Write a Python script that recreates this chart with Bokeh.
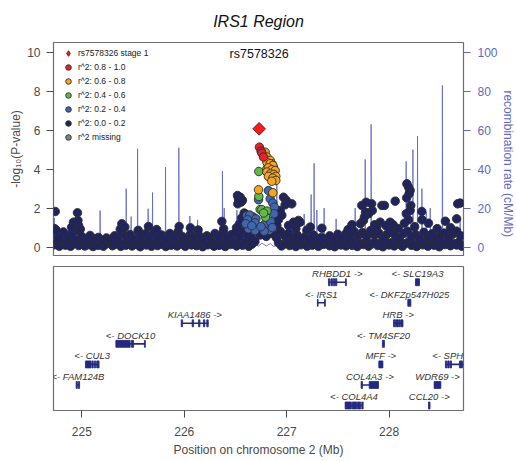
import math
from bokeh.plotting import figure
from bokeh.layouts import column, row
from bokeh.models import (Range1d, LinearAxis, FixedTicker, Legend, LegendItem,
                          Label, ColumnDataSource)
from bokeh.core.properties import value
from bokeh.embed import file_html
from bokeh.resources import INLINE

FONT = "Liberation Sans"

# ---------------------------------------------------------------------------
# Association results on chromosome 2 (position in Mb, -log10 P), by LD bin
# ---------------------------------------------------------------------------
lead_name = "rs7578326"
lead_pos = [226.731]
lead_logp = [6.07]

red_pos = [226.734, 226.751, 226.758, 226.774]
red_logp = [5.13, 4.92, 4.82, 4.62]

orange_pos = [226.790, 226.807, 226.839, 226.855, 226.822, 226.871, 226.807, 226.807,
              226.839, 226.865, 226.822, 226.855, 226.888, 226.807, 226.843, 226.875,
              226.894, 226.822, 226.865, 226.894, 226.855, 226.725, 226.865]
orange_logp = [4.87, 4.62, 4.45, 4.28, 4.19, 4.10, 4.02, 4.36,
               4.28, 4.19, 4.07, 3.97, 3.93, 3.85, 3.76, 3.73,
               3.63, 3.63, 3.54, 3.42, 3.38, 2.94, 2.79]

green_pos = [226.728, 226.728, 226.741, 226.758, 226.807, 226.793, 226.775]
green_logp = [3.88, 2.60, 1.93, 1.92, 1.85, 1.54, 1.75]

blue_pos = [226.725, 226.822, 226.839, 226.865, 226.880, 226.876, 226.611, 226.676,
            226.640, 226.620, 226.700, 226.690, 226.790, 226.830, 226.780, 226.627,
            226.692, 226.600, 226.750, 226.660, 226.845, 226.860]
blue_logp = [2.43, 2.90, 2.48, 2.26, 2.05, 1.71, 1.63, 1.54,
             1.65, 1.40, 1.45, 1.25, 1.20, 0.86, 0.82, 0.94,
             0.86, 1.20, 1.05, 1.10, 1.30, 1.00]

navy_pos = [
    # lower band
    224.73, 224.76, 224.78, 224.81, 224.84, 224.86, 224.89, 224.92, 224.95, 224.97,
    225.00, 225.03, 225.05, 225.08, 225.11, 225.13, 225.16, 225.19, 225.21, 225.24,
    225.27, 225.30, 225.32, 225.35, 225.38, 225.41, 225.43, 225.46, 225.49, 225.52,
    225.54, 225.57, 225.60, 225.63, 225.65, 225.68, 225.71, 225.74, 225.76, 225.79,
    225.82, 225.85, 225.87, 225.90, 225.93, 225.96, 225.98, 226.01, 226.04, 226.07,
    226.09, 226.12, 226.15, 226.18, 226.20, 226.23, 226.26, 226.29, 226.31, 226.34,
    226.37, 226.40, 226.42, 226.45, 226.48, 226.51, 226.54, 226.57, 226.60, 226.63,
    226.66, 226.69, 226.92, 226.95, 226.98, 227.01, 227.03, 227.06, 227.09, 227.12,
    227.14, 227.17, 227.20, 227.23, 227.25, 227.28, 227.31, 227.34, 227.36, 227.39,
    227.42, 227.45, 227.47, 227.50, 227.53, 227.56, 227.58, 227.61, 227.64, 227.67,
    227.69, 227.72, 227.75, 227.78, 227.80, 227.83, 227.86, 227.89, 227.91, 227.94,
    227.97, 228.00, 228.02, 228.05, 228.08, 228.11, 228.13, 228.16, 228.19, 228.22,
    228.24, 228.27, 228.30, 228.33, 228.35, 228.38, 228.41, 228.44, 228.46, 228.49,
    228.52, 228.55, 228.57, 228.60, 228.63, 228.66, 228.68, 228.71,
    # upper band
    224.74, 224.78, 224.82, 224.86, 224.90, 224.93, 224.96, 225.00, 225.04, 225.08,
    225.12, 225.16, 225.20, 225.24, 225.28, 225.32, 225.35, 225.39, 225.43, 225.47,
    225.51, 225.55, 225.58, 225.62, 225.66, 225.70, 225.74, 225.78, 225.82, 225.86,
    225.90, 225.94, 225.98, 226.02, 226.06, 226.10, 226.14, 226.18, 226.22, 226.26,
    226.30, 226.34, 226.38, 226.42, 226.46, 226.50, 226.54, 226.58, 226.62, 226.66,
    226.74, 226.80, 226.86, 226.90, 226.94, 226.98, 227.02, 227.06, 227.10, 227.14,
    227.18, 227.22, 227.26, 227.30, 227.34, 227.38, 227.42, 227.46, 227.50, 227.54,
    227.58, 227.62, 227.66, 227.70, 227.74, 227.78, 227.82, 227.86, 227.90, 227.94,
    227.98, 228.02, 228.06, 228.10, 228.14, 228.18, 228.22, 228.26, 228.30, 228.34,
    228.38, 228.42, 228.46, 228.50, 228.54, 228.58, 228.62, 228.66, 228.70,
    # scattered higher markers
    224.740, 224.732, 224.748, 224.957, 224.962, 224.918, 224.968, 224.940, 224.900, 224.985,
    225.390, 225.420, 225.375, 225.550, 225.650, 225.730, 225.950, 226.060, 226.135,
    226.367, 226.385,
    226.520, 226.529, 226.546, 226.556, 226.568, 226.523, 226.535, 226.585, 226.560, 226.540,
    226.595, 226.510,
    226.969, 226.995, 227.050, 226.985, 226.937, 226.953, 227.067, 227.115, 227.018, 227.130,
    226.920, 226.905, 227.090,
    227.230, 227.344, 227.197, 227.637, 227.600,
    227.734, 227.776, 227.830, 227.800, 227.770, 227.836, 227.750, 227.930, 227.955, 227.913,
    228.010, 228.060, 227.720, 227.860, 227.760, 227.880, 227.970, 228.040, 228.090,
    228.174, 228.190, 228.206, 228.196, 228.172, 228.212, 228.206, 228.168, 228.190, 228.150,
    228.320, 228.322, 228.385, 228.550, 228.660, 228.694, 228.670, 228.600, 228.470, 228.250,
]
navy_logp = [
    0.12, 0.25, 0.05, 0.30, 0.10, 0.22, 0.04, 0.18, 0.28, 0.08,
    0.20, 0.06, 0.27, 0.12, 0.03, 0.22, 0.09, 0.30, 0.05, 0.17,
    0.26, 0.07, 0.14, 0.29, 0.04, 0.19, 0.10, 0.25, 0.06, 0.21,
    0.13, 0.02, 0.24, 0.11, 0.30, 0.05, 0.18, 0.08, 0.27, 0.14,
    0.03, 0.22, 0.10, 0.29, 0.06, 0.16, 0.25, 0.04, 0.20, 0.11,
    0.28, 0.07, 0.17, 0.02, 0.24, 0.12, 0.30, 0.05, 0.19, 0.09,
    0.26, 0.03, 0.21, 0.13, 0.28, 0.06, 0.18, 0.10, 0.25, 0.04,
    0.15, 0.28, 0.22, 0.06, 0.17, 0.29, 0.08, 0.20, 0.03, 0.24,
    0.12, 0.27, 0.05, 0.18, 0.10, 0.30, 0.04, 0.21, 0.14, 0.26,
    0.07, 0.19, 0.02, 0.23, 0.11, 0.28, 0.06, 0.17, 0.09, 0.25,
    0.03, 0.20, 0.13, 0.29, 0.05, 0.16, 0.24, 0.08, 0.19, 0.02,
    0.27, 0.11, 0.22, 0.06, 0.30, 0.14, 0.04, 0.18, 0.25, 0.09,
    0.15, 0.03, 0.26, 0.12, 0.21, 0.05, 0.28, 0.10, 0.17, 0.02,
    0.23, 0.13, 0.29, 0.07, 0.19, 0.11, 0.25, 0.05,
    0.62, 0.45, 0.78, 0.52, 0.70, 0.40, 0.84, 0.55, 0.38, 0.60,
    0.42, 0.50, 0.35, 0.47, 0.40, 0.58, 0.44, 0.72, 0.55, 0.65,
    0.40, 0.78, 0.50, 0.68, 0.45, 0.73, 0.52, 0.62, 0.38, 0.70,
    0.48, 0.80, 0.55, 0.43, 0.66, 0.50, 0.62, 0.40, 0.58, 0.46,
    0.70, 0.52, 0.78, 0.48, 0.64, 0.75, 0.55, 0.82, 0.60, 0.45,
    0.62, 0.55, 0.70, 0.48, 0.80, 0.58, 0.72, 0.45, 0.64, 0.40,
    0.55, 0.38, 0.62, 0.45, 0.50, 0.36, 0.58, 0.42, 0.66, 0.48,
    0.70, 0.52, 0.80, 0.60, 0.75, 0.55, 0.85, 0.62, 0.72, 0.48,
    0.66, 0.80, 0.58, 0.45, 0.70, 0.82, 0.52, 0.64, 0.42, 0.76,
    0.55, 0.68, 0.40, 0.60, 0.72, 0.50, 0.66, 0.82, 0.58,
    1.83, 0.95, 0.88, 1.76, 1.37, 1.28, 1.11, 0.98, 1.02, 0.92,
    1.20, 1.03, 0.92, 0.86, 1.06, 0.90, 1.06, 0.99, 0.88,
    1.32, 0.94,
    2.65, 2.48, 2.56, 2.31, 2.40, 2.22, 2.35, 1.75, 1.50, 1.20,
    1.71, 1.00,
    2.56, 2.40, 2.22, 2.17, 1.88, 1.63, 1.28, 1.37, 1.11, 1.28,
    1.40, 1.10, 0.95,
    1.03, 0.97, 0.86, 1.15, 0.90,
    2.14, 2.30, 2.22, 1.71, 1.80, 1.88, 1.37, 2.14, 2.14, 1.28,
    1.28, 2.36, 1.20, 1.15, 1.55, 1.05, 1.10, 1.15, 0.95,
    3.25, 3.08, 2.91, 2.74, 2.53, 2.14, 1.88, 1.71, 1.40, 1.23,
    1.83, 1.40, 1.23, 1.33, 1.45, 2.26, 2.22, 1.00, 0.95, 1.05,
]

# Recombination rate (cM/Mb)
recomb_pos = [
    224.723, 224.728, 224.730, 224.733, 225.176, 225.178, 225.181, 225.431, 225.433, 225.436,
    225.479, 225.481, 225.484, 225.542, 225.544, 225.547, 225.645, 225.647, 225.650,
    225.688, 225.690, 225.693, 225.815, 225.817, 225.820, 225.945, 225.947, 225.950,
    226.053, 226.055, 226.058, 226.128, 226.130, 226.133, 226.371, 226.373, 226.376,
    226.388, 226.390, 226.393, 226.512, 226.514, 226.517, 226.650, 226.700, 226.720,
    226.760, 226.800, 226.840, 226.870, 226.902, 226.904, 226.907, 227.169, 227.171, 227.174,
    227.237, 227.239, 227.242, 227.266, 227.268, 227.271, 227.293, 227.295, 227.298,
    227.364, 227.366, 227.369, 227.481, 227.483, 227.486, 227.667, 227.669, 227.672,
    227.765, 227.767, 227.770, 227.823, 227.825, 227.828, 228.165, 228.167, 228.170,
    228.231, 228.233, 228.236, 228.276, 228.278, 228.281, 228.319, 228.321, 228.324,
    228.361, 228.363, 228.366, 228.400, 228.402, 228.405, 228.519, 228.521, 228.524,
    228.692, 228.694, 228.697, 228.727,
]
recomb_rate = [
    0.8, 0.9, 15.0, 0.7, 0.5, 18.8, 0.6, 0.7, 30.0, 0.9,
    0.8, 15.7, 0.6, 0.9, 50.5, 0.7, 0.6, 19.7, 0.8,
    0.7, 28.0, 0.5, 0.9, 41.0, 0.6, 0.8, 51.0, 0.7,
    0.6, 16.0, 0.9, 0.7, 14.0, 0.5, 0.8, 39.0, 1.0,
    0.9, 20.0, 0.7, 0.6, 19.0, 0.8, 0.3, 1.5, 0.4,
    2.0, 0.6, 1.8, 0.5, 0.7, 37.0, 0.9, 0.8, 17.0, 0.6,
    0.7, 27.0, 0.8, 0.6, 43.0, 0.9, 0.7, 19.0, 0.5,
    0.8, 20.0, 0.6, 0.9, 14.5, 0.7, 0.6, 20.0, 0.8,
    0.7, 45.0, 0.9, 0.8, 63.0, 0.6, 0.7, 44.0, 0.8,
    0.9, 50.0, 0.6, 0.7, 57.0, 0.8, 0.6, 30.0, 0.9,
    0.8, 18.0, 0.7, 0.6, 20.0, 0.8, 0.7, 83.0, 0.6,
    0.8, 15.0, 0.7, 0.9,
]

# Genes: name, strand, start, end (Mb), track row
gene_name = ["FAM124B", "CUL3", "DOCK10", "KIAA1486", "RHBDD1", "SLC19A3", "IRS1",
             "DKFZp547H025", "HRB", "TM4SF20", "MFF", "SPHKAP", "COL4A3", "WDR69",
             "COL4A4", "CCL20"]
gene_strand = ["-", "-", "-", "+", "+", "-", "-", "-", "+", "-", "+", "-", "+", "+", "-", "+"]
gene_start = [224.945, 225.035, 225.332, 225.970, 227.408, 228.258, 227.300,
              228.183, 228.043, 227.935, 227.900, 228.551, 227.728, 228.440,
              227.571, 228.385]
gene_end = [224.977, 225.166, 225.618, 226.236, 227.581, 228.297, 227.376,
            228.213, 228.134, 227.955, 227.940, 228.780, 227.897, 228.506,
            227.744, 228.400]
gene_row = [6, 5, 4, 3, 1, 1, 2, 2, 3, 4, 5, 5, 6, 6, 7, 7]

# Exons: gene, start, end (Mb)
exon_gene = ["FAM124B", "FAM124B",
             "CUL3", "CUL3", "CUL3", "CUL3", "CUL3",
             "DOCK10", "DOCK10", "DOCK10",
             "KIAA1486", "KIAA1486", "KIAA1486", "KIAA1486", "KIAA1486",
             "RHBDD1", "RHBDD1", "RHBDD1", "RHBDD1", "RHBDD1",
             "SLC19A3", "IRS1", "IRS1", "DKFZp547H025",
             "HRB", "HRB", "HRB", "HRB", "HRB",
             "TM4SF20", "MFF",
             "SPHKAP", "SPHKAP", "SPHKAP", "SPHKAP", "SPHKAP",
             "COL4A3", "COL4A3", "WDR69",
             "COL4A4", "COL4A4", "COL4A4", "COL4A4", "CCL20"]
exon_start = [224.944, 224.966,
              225.035, 225.099, 225.122, 225.145, 225.159,
              225.332, 225.485, 225.611,
              225.970, 226.077, 226.139, 226.187, 226.220,
              227.408, 227.433, 227.456, 227.476, 227.574,
              228.258, 227.300, 227.369, 228.183,
              228.043, 228.062, 228.076, 228.094, 228.113,
              227.935, 227.900,
              228.550, 228.573, 228.596, 228.687, 228.703,
              227.727, 227.806, 228.440,
              227.571, 227.640, 227.690, 227.733, 228.385]
exon_end = [224.956, 224.978,
            225.090, 225.111, 225.134, 225.157, 225.168,
            225.472, 225.505, 225.620,
            225.984, 226.091, 226.153, 226.201, 226.234,
            227.422, 227.447, 227.470, 227.490, 227.583,
            228.297, 227.307, 227.378, 228.213,
            228.056, 228.074, 228.088, 228.106, 228.136,
            227.955, 227.940,
            228.564, 228.587, 228.610, 228.701, 228.717,
            227.741, 227.897, 228.506,
            227.632, 227.684, 227.722, 227.747, 228.400]

# ---------------------------------------------------------------------------
X_RANGE = Range1d(224.723, 228.727)

NAVY = "#1F2360"
BLUE = "#3F66B0"
GREEN = "#5FBA46"
ORANGE = "#F8A41D"
RED = "#E8202A"
GREY = "#808080"
EDGE = "#2E2E2E"
RECOMB = "#5F69C4"
GENE = "#232A7E"
AXIS_GREY = "#4A4A4A"

p = figure(width=500, height=260, x_range=X_RANGE, y_range=Range1d(-0.43, 10.5),
           output_backend="svg", toolbar_location=None, x_axis_location=None,
           min_border_left=53, min_border_right=37, min_border_top=42, min_border_bottom=5)
p.title.text = "IRS1 Region"
p.title.align = "center"
p.title.vertical_align = "top"
p.title.text_font = FONT
p.title.text_font_style = "italic"
p.title.text_font_size = "16px"
p.title.text_color = "#111111"
p.title.standoff = 22
p.title.offset = 8
p.grid.visible = False
p.outline_line_color = "#6E6E6E"
p.outline_line_width = 1.2
p.background_fill_color = "white"
p.border_fill_color = "white"

yax = p.yaxis[0]
yax.ticker = FixedTicker(ticks=[0, 2, 4, 6, 8, 10])
yax.axis_line_color = None
yax.major_tick_out = 7
yax.major_tick_in = 0
yax.minor_tick_line_color = None
yax.major_tick_line_color = AXIS_GREY
yax.major_label_text_font = FONT
yax.major_label_text_font_size = "12px"
yax.major_label_text_color = AXIS_GREY
yax.major_label_standoff = 6
yax.axis_label = "-log\u2081\u2080(P-value)"
yax.axis_label_text_font = FONT
yax.axis_label_text_font_style = "normal"
yax.axis_label_text_font_size = "12px"
yax.axis_label_text_color = AXIS_GREY
yax.axis_label_standoff = 1

# recombination rate on a secondary axis
p.extra_y_ranges = {"recomb": Range1d(-4.3, 105)}
rax = LinearAxis(y_range_name="recomb", ticker=FixedTicker(ticks=[0, 20, 40, 60, 80, 100]))
rax.axis_line_color = None
rax.major_tick_out = 7
rax.major_tick_in = 0
rax.minor_tick_line_color = None
rax.major_tick_line_color = RECOMB
rax.major_label_text_font = FONT
rax.major_label_text_font_size = "12px"
rax.major_label_text_color = RECOMB
rax.major_label_standoff = 7
p.add_layout(rax, "right")

p.line(recomb_pos, recomb_rate, y_range_name="recomb", line_color=RECOMB,
       line_width=1, line_alpha=0.85)

PT = 8.5
LW = 0.9
r_navy = p.scatter(navy_pos, navy_logp, size=PT, fill_color=NAVY, line_color=EDGE, line_width=LW)
r_blue = p.scatter(blue_pos, blue_logp, size=PT, fill_color=BLUE, line_color=EDGE, line_width=LW)
r_green = p.scatter(green_pos, green_logp, size=PT, fill_color=GREEN, line_color=EDGE, line_width=LW)
r_orange = p.scatter(orange_pos, orange_logp, size=PT, fill_color=ORANGE, line_color=EDGE, line_width=LW)
r_red = p.scatter(red_pos, red_logp, size=PT, fill_color=RED, line_color=EDGE, line_width=LW)
r_lead = p.scatter(lead_pos, lead_logp, marker="square", angle=math.pi / 4, size=9,
                   fill_color="#FF1A1A", line_color=EDGE, line_width=LW)

# legend-only swatches (no data)
nan = [float("nan")]
k_lead = p.scatter(nan, nan, marker="diamond", fill_color="#FF1A1A", line_color=EDGE, line_width=LW)
k_missing = p.scatter(nan, nan, fill_color=GREY, line_color=EDGE, line_width=LW)

legend = Legend(items=[
    LegendItem(label=f"{lead_name} stage 1", renderers=[k_lead]),
    LegendItem(label="r^2: 0.8 - 1.0", renderers=[r_red]),
    LegendItem(label="r^2: 0.6 - 0.8", renderers=[r_orange]),
    LegendItem(label="r^2: 0.4 - 0.6", renderers=[r_green]),
    LegendItem(label="r^2: 0.2 - 0.4", renderers=[r_blue]),
    LegendItem(label="r^2: 0.0 - 0.2", renderers=[r_navy]),
    LegendItem(label="r^2 missing", renderers=[k_missing]),
], location=(8, 111))
legend.background_fill_alpha = 0
legend.border_line_color = None
legend.label_text_font = FONT
legend.label_text_font_size = "8.5px"
legend.label_text_color = "#222222"
legend.glyph_height = 14
legend.glyph_width = 14
legend.label_height = 14
legend.spacing = 0
legend.padding = 1
legend.margin = 0
legend.label_standoff = 3
p.add_layout(legend)

p.add_layout(Label(x=lead_pos[0], y=9.93, text=lead_name, text_align="center",
                   text_baseline="middle", text_font=FONT, text_font_size="12.5px",
                   text_color="#111111"))

# narrow strip on the right carrying the recombination-rate axis title,
# rotated to read downwards
side = figure(width=16, height=260, x_range=Range1d(0, 16), y_range=Range1d(0, 260),
              output_backend="svg", toolbar_location=None, min_border=0,
              x_axis_location=None, y_axis_location=None)
side.grid.visible = False
side.outline_line_color = None
side.add_layout(Label(x=7, y=112, angle=-math.pi / 2, text="recombination rate (cM/Mb)",
                      text_align="center", text_baseline="middle", text_font=FONT,
                      text_font_size="12px", text_color=RECOMB))

# ---------------------------------------------------------------------------
# Gene track
g = figure(width=516, height=201, x_range=X_RANGE, y_range=Range1d(7.244, 0.234),
           output_backend="svg", toolbar_location=None, y_axis_location=None,
           min_border_left=53, min_border_right=53, min_border_top=6, min_border_bottom=51)
g.grid.visible = False
g.outline_line_color = "#6E6E6E"
g.outline_line_width = 1.2

xax = g.xaxis[0]
xax.ticker = FixedTicker(ticks=[225, 226, 227, 228])
xax.axis_line_color = None
xax.major_tick_out = 7
xax.major_tick_in = 0
xax.minor_tick_line_color = None
xax.major_tick_line_color = AXIS_GREY
xax.major_label_text_font = FONT
xax.major_label_text_font_size = "12px"
xax.major_label_text_color = AXIS_GREY
xax.major_label_standoff = 9
xax.axis_label = "Position on chromosome 2 (Mb)"
xax.axis_label_text_font = FONT
xax.axis_label_text_font_style = "normal"
xax.axis_label_text_font_size = "12px"
xax.axis_label_text_color = AXIS_GREY
xax.axis_label_standoff = 4

row_of = dict(zip(gene_name, gene_row))
genes = ColumnDataSource(dict(
    start=gene_start, end=gene_end, row=gene_row,
    mid=[(a + b) / 2 for a, b in zip(gene_start, gene_end)],
    label_y=[r - 0.42 for r in gene_row],
    label=[(f"{n} ->" if s == "+" else f"<- {n}") for n, s in zip(gene_name, gene_strand)],
))
exons = ColumnDataSource(dict(
    left=exon_start, right=exon_end,
    top=[row_of[n] - 0.17 for n in exon_gene],
    bottom=[row_of[n] + 0.17 for n in exon_gene],
))
g.segment(x0="start", x1="end", y0="row", y1="row", source=genes,
          line_color=GENE, line_width=1.6)
g.quad(left="left", right="right", top="top", bottom="bottom", source=exons,
       fill_color=GENE, line_color=GENE, line_width=0.8)
g.text(x="mid", y="label_y", text="label", source=genes, text_align="center",
       text_baseline="middle", text_font=value(FONT), text_font_style="italic",
       text_font_size="9.5px", text_color="#333333")

layout = column(row(p, side, spacing=0), g, spacing=0)
open("out.html", "w").write(file_html(layout, INLINE))
